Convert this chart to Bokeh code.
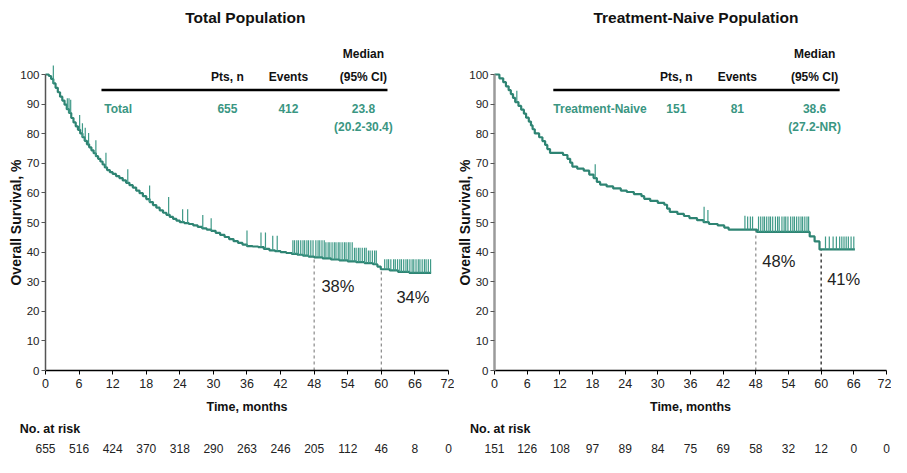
import numpy as np
from bokeh.plotting import figure
from bokeh.layouts import row
from bokeh.models import FixedTicker, LinearAxis, Range1d
from bokeh.core.properties import value
from bokeh.embed import file_html
from bokeh.resources import INLINE

# ---------------- data ----------------
month_ticks = [0, 6, 12, 18, 24, 30, 36, 42, 48, 54, 60, 66, 72]
surv_ticks = [0, 10, 20, 30, 40, 50, 60, 70, 80, 90, 100]

risk_total = [655, 516, 424, 370, 318, 290, 263, 246, 205, 112, 46, 8, 0]
risk_naive = [151, 126, 108, 97, 89, 84, 75, 69, 58, 32, 12, 0, 0]

total_t = [0.0, 0.6, 1.0, 1.4, 1.8, 2.2, 2.6, 3.0, 3.4, 3.8, 4.2, 4.6, 5.0, 5.4, 5.8,
           6.2, 6.6, 7.0, 7.4, 7.8, 8.2, 8.6, 9.0, 9.4, 9.8, 10.2, 10.6, 11.0, 11.5,
           12.0, 12.6, 13.2, 13.8, 14.4, 15.0, 15.6, 16.2, 16.8, 17.4, 18.0, 18.6,
           19.2, 19.8, 20.4, 21.0, 21.6, 22.2, 22.8, 23.4, 24.0, 24.8, 25.6, 26.4,
           27.2, 28.0, 28.8, 29.6, 30.4, 31.2, 32.0, 32.8, 33.6, 34.4, 35.2, 36.0,
           37.0, 38.0, 39.0, 40.0, 41.0, 42.0, 43.0, 44.0, 45.0, 46.0, 47.0, 48.0,
           49.5, 51.0, 52.5, 54.0, 55.5, 57.0, 58.5, 59.3, 59.9, 61.5, 63.0, 65.0, 68.9]
total_s = [100.0, 99.5, 98.5, 97.0, 95.5, 94.0, 92.5, 91.2, 89.8, 88.3, 87.0, 85.3, 83.8,
           82.5, 81.3, 80.1, 78.8, 77.6, 76.4, 75.4, 74.4, 73.4, 72.4, 71.5, 70.6, 69.6,
           68.6, 67.7, 67.0, 66.4, 65.7, 65.0, 64.2, 63.4, 62.6, 61.8, 60.8, 59.9, 58.9,
           57.9, 56.9, 55.9, 55.0, 54.1, 53.3, 52.6, 51.9, 51.2, 50.6, 50.1, 49.8, 49.5,
           49.0, 48.5, 48.0, 47.6, 47.2, 46.5, 45.8, 45.1, 44.4, 43.7, 43.1, 42.5, 42.0,
           41.9, 41.7, 41.1, 40.6, 40.3, 40.0, 39.7, 39.4, 39.1, 38.8, 38.5, 38.2,
           37.9, 37.5, 37.2, 36.9, 36.6, 36.3, 35.9, 35.1, 34.2, 33.8, 33.3, 33.0, 33.0]

total_cens_t = [1.4, 3.9, 4.2, 4.5, 6.1, 6.6, 7.1, 7.7, 9.0, 10.8, 14.7, 18.6, 22.0,
                24.5, 25.4, 28.1, 29.6, 36.0, 38.5, 39.3, 40.6, 41.4,
                44.2, 44.5, 44.9, 45.2, 45.6, 46.0, 46.3, 46.7, 47.0, 47.4, 47.8, 48.3,
                48.7, 49.0, 49.4, 49.8, 50.1, 50.5, 50.8, 51.2, 51.6, 51.9, 52.3, 52.6,
                53.0, 53.4, 53.7, 54.1, 54.4, 54.8, 55.2, 55.5, 55.9, 56.2, 56.6, 57.0,
                57.3, 57.7, 58.0, 58.4, 58.8, 59.1,
                60.6, 61.0, 61.3, 61.7, 62.2, 62.5, 62.9, 63.3, 63.6, 64.0, 64.4, 64.7,
                65.1, 65.5, 65.8, 66.2, 66.6, 66.9, 67.3, 67.7, 68.0, 68.4, 68.8]
total_cens_top = [103.0, 92.0, 92.0, 91.5, 86.3, 83.5, 82.0, 80.2, 77.8, 73.6, 68.0, 62.5,
                  58.6, 54.5, 54.5, 52.5, 51.4, 47.3, 46.6, 46.6, 45.5, 45.5,
                  44.0, 44.0, 44.0, 44.0, 44.0, 44.0, 44.0, 44.0, 44.0, 44.0, 44.0, 44.0,
                  44.0, 44.0, 44.0, 44.0, 43.3, 43.3, 43.3, 43.3, 43.3, 43.3, 43.3, 43.3,
                  43.3, 43.3, 43.3, 43.3, 43.3, 43.3, 41.5, 41.5, 41.5, 41.5, 41.5, 41.5,
                  41.5, 40.5, 40.5, 40.5, 40.5, 40.5,
                  37.6, 37.6, 37.6, 37.6, 37.6, 37.6, 37.6, 37.6, 37.6, 37.6, 37.6, 37.6,
                  37.6, 37.6, 37.6, 37.6, 37.6, 37.6, 37.6, 37.6, 37.6, 37.6, 37.6]

naive_t = [0.0, 0.9, 1.6, 2.1, 2.6, 3.0, 3.4, 3.8, 4.4, 4.9, 5.4, 5.8, 6.3, 6.7, 7.0, 7.4,
           8.2, 8.8, 9.3, 9.7, 10.2, 12.6, 13.4, 13.9, 14.3, 15.2, 16.4, 17.4, 18.2,
           18.8, 19.4, 20.6, 21.8, 23.2, 24.3, 25.6, 27.0, 27.5, 28.6, 30.0, 31.2,
           31.7, 32.2, 33.6, 34.8, 35.8, 37.2, 38.4, 39.4, 41.0, 42.2, 43.0, 48.2,
           57.9, 58.8, 59.7, 66.2]
naive_s = [100.0, 98.7, 97.4, 96.0, 94.7, 93.4, 92.1, 90.7, 89.4, 88.1, 86.8, 85.4, 84.1,
           82.8, 81.5, 80.1, 78.8, 77.5, 76.2, 74.8, 73.5, 72.8, 71.5, 70.2, 68.9, 68.2,
           67.5, 66.2, 65.0, 63.7, 62.8, 62.2, 61.5, 60.8, 60.3, 59.6, 58.9, 58.0, 57.3,
           56.6, 56.0, 54.7, 53.6, 52.9, 52.2, 51.5, 50.8, 50.1, 49.5, 49.0, 48.3, 47.6,
           46.8, 45.3, 43.6, 40.9, 40.9]

naive_cens_t = [4.1, 18.5, 38.5, 39.2, 46.0, 46.5, 47.0, 47.4,
                48.5, 48.9, 49.3, 49.6, 50.0, 50.4, 50.7, 51.1, 51.6, 52.0, 52.3, 52.8,
                53.2, 53.5, 53.9, 54.4, 54.8, 55.1, 55.5, 55.9, 56.3, 56.6, 57.0, 57.4, 57.7,
                60.8, 61.5, 62.2, 62.8, 63.4, 63.8, 64.2, 64.6, 65.0, 65.5, 66.0]
naive_cens_top = [94.5, 69.7, 55.3, 54.2, 52.3, 52.0, 52.0, 52.0,
                  52.0, 52.0, 52.0, 52.0, 52.0, 52.0, 52.0, 52.0, 52.0, 52.0, 52.0, 52.0,
                  52.0, 52.0, 52.0, 52.0, 52.0, 52.0, 52.0, 52.0, 52.0, 52.0, 52.0, 52.0, 52.0,
                  45.3, 45.3, 45.3, 45.3, 45.3, 45.3, 45.3, 45.3, 45.3, 45.3, 45.3]

legend_total = ["Total", "655", "412", "23.8", "(20.2-30.4)"]
legend_naive = ["Treatment-Naive", "151", "81", "38.6", "(27.2-NR)"]
landmarks_total = [(48, 38, "38%"), (60, 34, "34%")]
landmarks_naive = [(48, 47.5, "48%"), (60, 41, "41%")]

# ---------------- style ----------------
FONT = "Liberation Sans"
TEAL = "#2E8473"
TEAL_TXT = "#3A9682"
TEAL_TICK = "#3F9A88"
H = 457
PX_Y = 2.96          # px per % unit
Y0 = 370             # canvas y of 0 %


def step_value(ts, ss, q):
    ts = np.asarray(ts); ss = np.asarray(ss)
    idx = np.searchsorted(ts, np.asarray(q), side="right") - 1
    return ss[idx]


def txt(p, x, y, t, size, color="#111", bold=False, align="center", angle=0.0):
    p.text(x=x, y=y, text=t, text_font=value(FONT), text_font_size=value(size),
           text_font_style="bold" if bold else "normal", text_color=color,
           text_align=align, text_baseline="middle", angle=angle)


def panel(width, axis_x, px_x, title, t, s, ct, ctop, legend, risk,
          marks, pos, yaxis_color, yaxis_width, dash_colors):
    x0 = -axis_x / px_x
    x1 = x0 + width / px_x
    y1 = Y0 / PX_Y
    y0 = (Y0 - H) / PX_Y
    p = figure(width=width, height=H, x_range=Range1d(x0, x1), y_range=Range1d(y0, y1),
               output_backend="svg", toolbar_location=None,
               x_axis_location=None, y_axis_location=None,
               min_border_left=0, min_border_right=0, min_border_top=0,
               min_border_bottom=0)
    p.grid.visible = False
    p.outline_line_color = None

    xa = LinearAxis(fixed_location=0, ticker=FixedTicker(ticks=month_ticks), bounds=(0, 72))
    xa.minor_tick_line_color = None
    xa.major_tick_in = 0
    xa.major_tick_out = 4
    xa.axis_line_width = 1.5
    xa.axis_line_color = "black"
    xa.major_label_text_font = FONT
    xa.major_label_text_font_size = "12.5px"
    xa.major_label_text_color = "#222"
    xa.major_label_standoff = 4
    xa.axis_label = "Time, months"
    xa.axis_label_text_font = FONT
    xa.axis_label_text_font_size = "12.5px"
    xa.axis_label_text_font_style = "bold"
    xa.axis_label_text_color = "#111"
    xa.axis_label_standoff = 9
    p.add_layout(xa, "below")

    ya = LinearAxis(fixed_location=0, ticker=FixedTicker(ticks=surv_ticks), bounds=(0, 100))
    ya.minor_tick_line_color = None
    ya.major_tick_in = 0
    ya.major_tick_out = 4
    ya.axis_line_color = yaxis_color
    ya.axis_line_width = yaxis_width
    ya.major_tick_line_color = "#555"
    ya.major_label_text_font = FONT
    ya.major_label_text_font_size = "11.5px"
    ya.major_label_text_color = "#222"
    ya.major_label_standoff = 2
    p.add_layout(ya, "left")

    # landmark dashed lines
    for (m, v, _), dc in zip(marks, dash_colors):
        p.segment(x0=[m], y0=[0], x1=[m], y1=[v], line_color=dc, line_width=1.2,
                  line_dash="3 3")

    # KM curve and censor marks
    p.step(x=t, y=s, mode="after", line_color=TEAL, line_width=2.2)
    sv = step_value(t, s, ct)
    p.segment(x0=ct, y0=sv, x1=ct, y1=ctop, line_color=TEAL_TICK, line_width=1.2)

    # landmark percentages
    for (_, _, label), (lx, ly) in zip(marks, pos["marks"]):
        txt(p, [lx], [ly], [label], "16.5px", color="#222", align="left")

    # title
    txt(p, [pos["title"]], [119.3], [title], "15.5px", bold=True)

    # legend table
    cx = pos["cols"]
    txt(p, [cx[1], cx[2], cx[3]], [99.3, 99.3, 99.3], ["Pts, n", "Events", "(95% CI)"],
        "12px", bold=True)
    txt(p, [cx[3]], [106.8], ["Median"], "12px", bold=True)
    p.segment(x0=[pos["rule"][0]], y0=[94.8], x1=[pos["rule"][1]], y1=[94.8],
              line_color="black", line_width=2.5)
    txt(p, [cx[0]], [88.5], [legend[0]], "12px", color=TEAL_TXT, bold=True, align="left")
    txt(p, [cx[1], cx[2], cx[3], cx[3]], [88.5, 88.5, 88.5, 82.4], legend[1:], "12px",
        color=TEAL_TXT, bold=True)

    # y axis label
    txt(p, [pos["ylab"]], [50], ["Overall Survival, %"], "14px", bold=True,
        angle=np.pi / 2)

    # number at risk
    txt(p, [pos["risk"]], [-19.6], ["No. at risk"], "12.5px", bold=True, align="left")
    txt(p, month_ticks, [-26.5] * len(month_ticks), [str(r) for r in risk], "12px",
        color="#222")
    return p


p1 = panel(454, 45, 5.597, "Total Population", total_t, total_s, total_cens_t,
           total_cens_top, legend_total, risk_total, landmarks_total,
           dict(marks=[(49.3, 28.6), (62.7, 24.7)], title=35.7,
                cols=[10.5, 32.5, 43.4, 56.8], rule=(10.0, 61.1), ylab=-5.2, risk=-4.6),
           "#555555", 1.5, ["#888888", "#888888"])
p2 = panel(437, 40, 5.444, "Treatment-Naive Population", naive_t, naive_s,
           naive_cens_t, naive_cens_top, legend_naive, risk_naive, landmarks_naive,
           dict(marks=[(49.2, 36.9), (61.1, 30.8)], title=37.0,
                cols=[10.8, 33.4, 44.6, 58.8], rule=(10.8, 63.4), ylab=-5.5, risk=-4.5),
           "#9A9A9A", 2.5, ["#888888", "#111111"])

layout = row(p1, p2)
open("out.html", "w").write(file_html(layout, INLINE))
